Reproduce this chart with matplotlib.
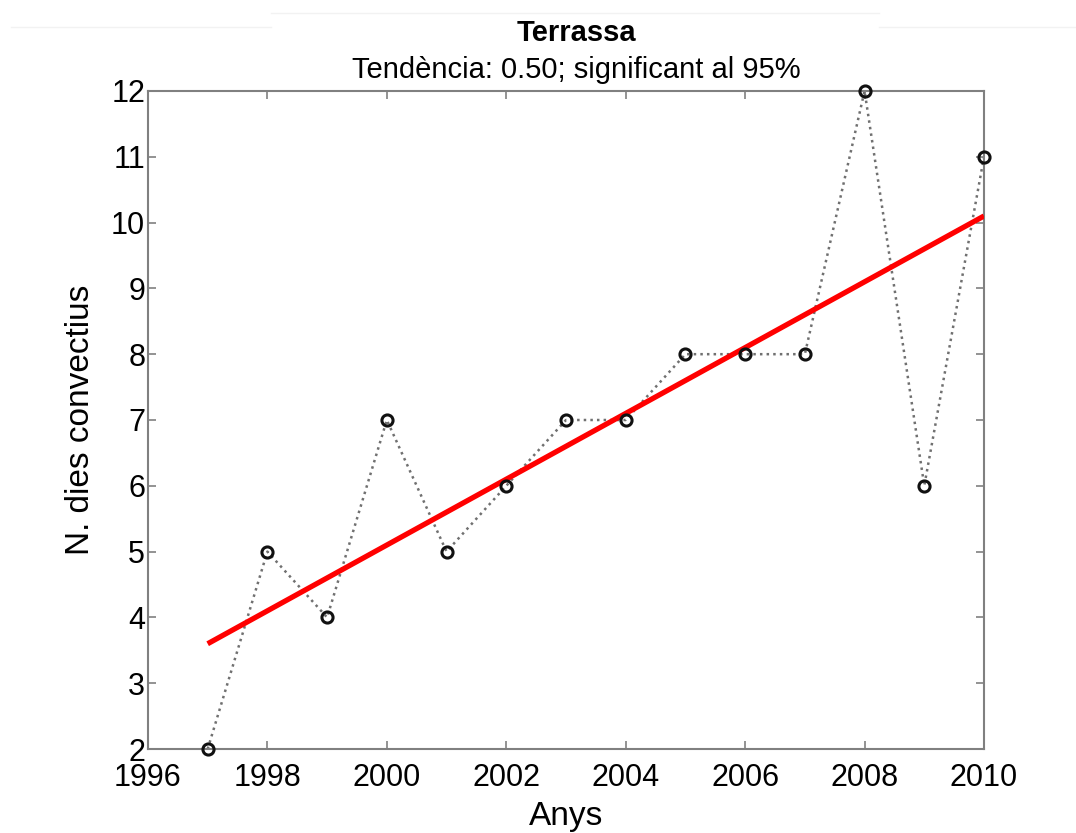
import matplotlib
matplotlib.use('Agg')
import matplotlib.pyplot as plt
import matplotlib.ticker as tkr
from matplotlib.lines import Line2D

# data
anys = [1997, 1998, 1999, 2000, 2001, 2002, 2003, 2004, 2005, 2006, 2007, 2008, 2009, 2010]
dies = [2, 5, 4, 7, 5, 6, 7, 7, 8, 8, 8, 12, 6, 11]
trend_anys = [1997, 2010]
trend_vals = [3.6, 10.1]

titol = 'Terrassa'
subtitol = 'Tend\u00e8ncia: 0.50; significant al 95%'

plt.rcParams['font.family'] = ['Liberation Sans', 'DejaVu Sans']

fig = plt.figure(figsize=(10.76, 8.33), dpi=100)
ax = fig.add_axes([0.1375, 0.1008, 0.777, 0.79])

# data series: dotted grey with open black circles
ax.plot(anys, dies, linestyle=':', color='#707070', linewidth=1.8, zorder=2)
ax.plot(anys, dies, linestyle='none', marker='o', markersize=8,
        markerfacecolor='none', markeredgecolor='#111111', markeredgewidth=2.2,
        zorder=4, clip_on=False)

# trend line
ax.plot(trend_anys, trend_vals, color='red', linewidth=3.8, zorder=3,
        solid_capstyle='butt')

ax.set_xlim(1996, 2010)
ax.set_ylim(2, 12)
ax.xaxis.set_major_locator(tkr.MultipleLocator(2))
ax.yaxis.set_major_locator(tkr.MultipleLocator(1))

for s in ax.spines.values():
    s.set_color('#808080')
    s.set_linewidth(1.5)
ax.tick_params(direction='in', length=6, width=1.2, color='#808080',
               top=True, right=True, labelsize=22)
ax.tick_params(axis='x', pad=10)
ax.tick_params(axis='y', pad=2)

ax.set_xlabel('Anys', fontsize=24, labelpad=6)
ax.set_ylabel('N. dies convectius', fontsize=24, labelpad=11)

fig.text(0.5355, 0.960, titol, ha='center', va='center',
         fontsize=21, fontweight='bold')
fig.text(0.5355, 0.916, subtitol, ha='center', va='center', fontsize=21)

# faint frame edges left over at the top of the screenshot
fig.add_artist(Line2D([0.01, 0.252], [0.967, 0.967], color='#f2f2f2', linewidth=1))
fig.add_artist(Line2D([0.252, 0.817], [0.984, 0.984], color='#f2f2f2', linewidth=1))
fig.add_artist(Line2D([0.817, 1.0], [0.967, 0.967], color='#f2f2f2', linewidth=1))

fig.savefig('out.png', dpi=100)
